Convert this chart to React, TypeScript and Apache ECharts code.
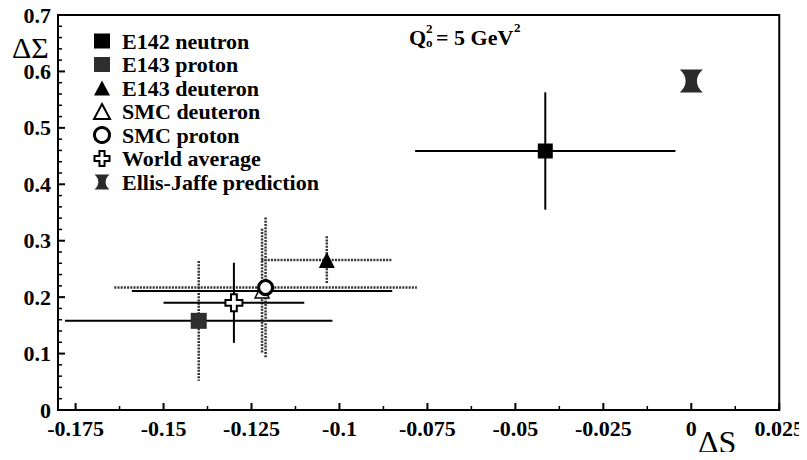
import React, { useEffect, useRef } from "react";
import * as echarts from "echarts";

// ---- data ----
const names = [
  "E142 neutron",
  "E143 proton",
  "E143 deuteron",
  "SMC deuteron",
  "SMC proton",
  "World average",
  "Ellis-Jaffe prediction",
];
const deltaS = [-0.0415, -0.14, -0.1036, -0.122, -0.121, -0.13, 0.0];
const deltaSigma = [0.459, 0.158, 0.266, 0.211, 0.217, 0.19, 0.583];
const deltaSErr = [0.037, 0.038, 0.0186, 0.037, 0.043, 0.02, 0];
const deltaSigmaErr = [0.104, 0.106, 0.042, 0.11, 0.124, 0.071, 0];
const xTicks = [-0.175, -0.15, -0.125, -0.1, -0.075, -0.05, -0.025, 0, 0.025];
const yTicks = [0, 0.1, 0.2, 0.3, 0.4, 0.5, 0.6, 0.7];
const X_MIN = -0.18;
const X_MAX = 0.025;
const Y_MIN = 0;
const Y_MAX = 0.7;

const SERIF = '"Liberation Serif", "DejaVu Serif", serif';
const CROSS = "path://M3.3,0 H6.7 V3.3 H10 V6.7 H6.7 V10 H3.3 V6.7 H0 V3.3 H3.3 Z";
const HOURGLASS = "path://M0,0 L10,0 C6.6,3 6.6,7 10,10 L0,10 C3.4,7 3.4,3 0,0 Z";

const SOLID = { stroke: "#000", lineWidth: 2, lineDash: null as any };
const HATCH = { stroke: "#333", lineWidth: 2.5, lineDash: [2, 1.2] };

const markStyles = [
  { symbol: "rect", size: 15, fill: "#000", border: "#000", bw: 0, h: SOLID, v: SOLID },
  { symbol: "rect", size: 16, fill: "#2e2e2e", border: "#2e2e2e", bw: 0, h: SOLID, v: HATCH },
  { symbol: "triangle", size: 16, fill: "#000", border: "#000", bw: 0, h: HATCH, v: HATCH },
  { symbol: "triangle", size: 14, fill: "#fff", border: "#000", bw: 1.5, h: SOLID, v: HATCH },
  { symbol: "circle", size: 14, fill: "#fff", border: "#000", bw: 3, h: HATCH, v: HATCH },
  { symbol: CROSS, size: 17, fill: "#fff", border: "#000", bw: 2, h: SOLID, v: SOLID },
  { symbol: HOURGLASS, size: 23, fill: "#2a2a2a", border: "#2a2a2a", bw: 0, h: SOLID, v: SOLID },
];

// tick marks (major = labelled values, minor = subdivisions)
const xMinor = xTicks.slice(0, -1).map((t, i) => (t + xTicks[i + 1]) / 2);
const yMinor: number[] = [];
yTicks.slice(0, -1).forEach((t, i) => {
  for (let k = 1; k < 5; k++) yMinor.push(t + ((yTicks[i + 1] - t) * k) / 5);
});

export default function App() {
  const ref = useRef<HTMLDivElement>(null);
  useEffect(() => {
    if (!ref.current) return;
    const chart = echarts.init(ref.current, null, { renderer: "svg" });

    const errSeries = names.map((n, i) => ({
      type: "custom",
      silent: true,
      z: 2,
      encode: { x: 0, y: 1 },
      data: [[deltaS[i], deltaSigma[i], deltaSErr[i], deltaSigmaErr[i]]],
      renderItem: (params: any, api: any) => {
        const x = api.value(0), y = api.value(1), ex = api.value(2), ey = api.value(3);
        const children: any[] = [];
        const st = markStyles[i];
        if (ex > 0) {
          const l = api.coord([x - ex, y]);
          const r = api.coord([x + ex, y]);
          children.push({
            type: "line",
            shape: { x1: l[0], y1: l[1], x2: r[0], y2: r[1] },
            style: { stroke: st.h.stroke, lineWidth: st.h.lineWidth, lineDash: st.h.lineDash },
          });
        }
        if (ey > 0) {
          const t = api.coord([x, y + ey]);
          const b = api.coord([x, y - ey]);
          children.push({
            type: "line",
            shape: { x1: t[0], y1: t[1], x2: b[0], y2: b[1] },
            style: { stroke: st.v.stroke, lineWidth: st.v.lineWidth, lineDash: st.v.lineDash },
          });
        }
        return { type: "group", children };
      },
    }));

    const pointSeries = names.map((n, i) => ({
      type: "scatter",
      name: n,
      z: 5,
      symbol: markStyles[i].symbol,
      symbolSize: markStyles[i].size,
      itemStyle: {
        color: markStyles[i].fill,
        borderColor: markStyles[i].border,
        borderWidth: markStyles[i].bw,
        opacity: 1,
      },
      data: [[deltaS[i], deltaSigma[i]]],
    }));

    // axis ticks drawn through the axes' own scale (inside the frame)
    const tickData = [
      ...xTicks.map((v) => [v, Y_MIN, 0, 7]),
      ...xMinor.map((v) => [v, Y_MIN, 0, 4]),
      ...yTicks.map((v) => [X_MIN, v, 1, 7]),
      ...yMinor.map((v) => [X_MIN, v, 1, 4]),
    ];
    const tickSeries = {
      type: "custom",
      silent: true,
      z: 8,
      clip: false,
      data: tickData,
      renderItem: (params: any, api: any) => {
        const p = api.coord([api.value(0), api.value(1)]);
        const vertical = api.value(2) === 0;
        const len = api.value(3);
        return {
          type: "line",
          shape: vertical
            ? { x1: p[0], y1: p[1], x2: p[0], y2: p[1] - len }
            : { x1: p[0], y1: p[1], x2: p[0] + len, y2: p[1] },
          style: { stroke: "#000", lineWidth: len > 5 ? 2 : 1.5 },
        };
      },
    };

    const tickFont = { fontFamily: SERIF, fontWeight: "bold" as const, fontSize: 22, color: "#000" };

    chart.setOption({
      animation: false,
      backgroundColor: "#fff",
      grid: {
        left: 58,
        right: 27,
        top: 15,
        bottom: 50,
        show: true,
        borderColor: "#000",
        borderWidth: 2,
      },
      legend: {
        data: names.map((n, i) =>
          i === 4
            ? { name: n, itemStyle: { borderWidth: 3, borderColor: "#000", color: "#fff" } }
            : { name: n }
        ),
        orient: "vertical",
        left: 88,
        top: 25,
        itemWidth: 16,
        itemHeight: 15,
        itemGap: 1.5,
        selectedMode: false,
        textStyle: {
          fontFamily: SERIF,
          fontWeight: "bold",
          fontSize: 22,
          lineHeight: 21,
          color: "#000",
          padding: [0, 0, 0, 7],
        },
      },
      xAxis: {
        type: "value",
        min: X_MIN,
        max: X_MAX,
        splitLine: { show: false },
        axisLine: { show: true, onZero: false, lineStyle: { color: "#000", width: 2 } },
        axisTick: { show: false },
        axisLabel: {
          ...tickFont,
          show: true,
          margin: 10,
          lineHeight: 16,
          customValues: xTicks,
          formatter: (v: number) => {
            const r = Math.round(v * 1000) / 1000;
            return r === 0 ? "0" : String(r);
          },
        },
      },
      yAxis: {
        type: "value",
        min: Y_MIN,
        max: Y_MAX,
        interval: 0.1,
        splitLine: { show: false },
        axisLine: { show: true, onZero: false, lineStyle: { color: "#000", width: 2 } },
        axisTick: { show: false },
        axisLabel: {
          ...tickFont,
          show: true,
          margin: 7,
          lineHeight: 16,
          formatter: (v: number) => {
            const r = Math.round(v * 10) / 10;
            return yTicks.includes(r) ? String(r) : "";
          },
        },
      },
      graphic: [
        {
          type: "text",
          left: 12,
          top: 32,
          style: { text: "ΔΣ", font: `30px ${SERIF}`, fill: "#000", lineHeight: 18 },
        },
        {
          type: "text",
          left: 698,
          top: 426,
          style: { text: "ΔS", font: `32px ${SERIF}`, fill: "#000" },
        },
        {
          type: "text",
          left: 409,
          top: 26,
          style: { text: "Q", font: `bold 22px ${SERIF}`, fill: "#000" },
        },
        {
          type: "text",
          left: 426,
          top: 22,
          style: { text: "2", font: `bold 13px ${SERIF}`, fill: "#000", lineHeight: 12 },
        },
        {
          type: "text",
          left: 426,
          top: 36,
          style: { text: "o", font: `bold 13px ${SERIF}`, fill: "#000", lineHeight: 12 },
        },
        {
          type: "text",
          left: 436,
          top: 26,
          style: { text: "= 5 GeV", font: `bold 22px ${SERIF}`, fill: "#000" },
        },
        {
          type: "text",
          left: 514,
          top: 21,
          style: { text: "2", font: `bold 13px ${SERIF}`, fill: "#000", lineHeight: 12 },
        },
      ],
      series: [tickSeries, ...errSeries, ...pointSeries],
    });
    return () => chart.dispose();
  }, []);
  return <div ref={ref} style={{ width: 807, height: 460, margin: -8 }} />;
}
